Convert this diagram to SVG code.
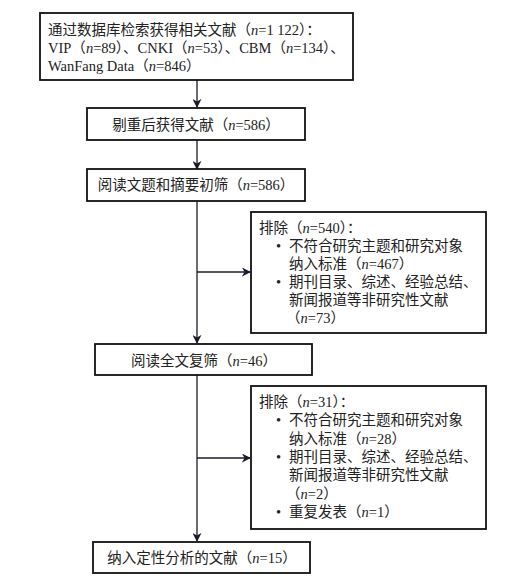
<svg xmlns="http://www.w3.org/2000/svg" width="531" height="579" viewBox="0 0 531 579">
<style>
.box{fill:#fff;stroke:#111;stroke-width:1.8}
.ln{fill:none;stroke:#1a1a2e;stroke-width:1.3}
text{font-family:"Liberation Serif","Noto Sans CJK SC",serif;font-size:14.5px;fill:#222}
.c{text-anchor:middle}
i{font-style:italic}
</style>
<defs>
<marker id="ah" viewBox="0 0 10 10" refX="9" refY="5" markerWidth="9" markerHeight="9" markerUnits="userSpaceOnUse" orient="auto">
<path d="M0,0 L10,5 L0,10 L3,5 Z" fill="#1a1a2e"/>
</marker>
</defs>
<rect width="531" height="579" fill="#fff"/>
<g id="connectors">
<line class="ln" x1="197" y1="80" x2="197" y2="107" marker-end="url(#ah)"/>
<line class="ln" x1="197" y1="140" x2="197" y2="169" marker-end="url(#ah)"/>
<line class="ln" x1="197" y1="201" x2="197" y2="343" marker-end="url(#ah)"/>
<line class="ln" x1="197" y1="272" x2="250" y2="272" marker-end="url(#ah)"/>
<line class="ln" x1="197" y1="375" x2="197" y2="541" marker-end="url(#ah)"/>
<line class="ln" x1="197" y1="458" x2="250" y2="458" marker-end="url(#ah)"/>
</g>
<g id="n1">
<rect class="box" x="40" y="13" width="313" height="67"/>
<text x="48" y="35">通过数据库检索获得相关文献（<tspan font-style="italic">n</tspan>=1 122）：</text>
<text x="48" y="53">VIP（<tspan font-style="italic">n</tspan>=89）、CNKI（<tspan font-style="italic">n</tspan>=53）、CBM（<tspan font-style="italic">n</tspan>=134）、</text>
<text x="48" y="71">WanFang Data（<tspan font-style="italic">n</tspan>=846）</text>
</g>
<g id="n2">
<rect class="box" x="87" y="108" width="218" height="32"/>
<text class="c" x="196" y="130">剔重后获得文献（<tspan font-style="italic">n</tspan>=586）</text>
</g>
<g id="n3">
<rect class="box" x="87" y="169" width="218" height="32"/>
<text class="c" x="196" y="190">阅读文题和摘要初筛（<tspan font-style="italic">n</tspan>=586）</text>
</g>
<g id="n4">
<rect class="box" x="251" y="212" width="235" height="121"/>
<text x="259" y="233">排除（<tspan font-style="italic">n</tspan>=540）：</text>
<text x="276" y="251">•</text>
<text x="289" y="251">不符合研究主题和研究对象</text>
<text x="289" y="269">纳入标准（<tspan font-style="italic">n</tspan>=467）</text>
<text x="276" y="287">•</text>
<text x="289" y="287">期刊目录、综述、经验总结、</text>
<text x="289" y="305">新闻报道等非研究性文献</text>
<text x="286" y="323">（<tspan font-style="italic">n</tspan>=73）</text>
</g>
<g id="n5">
<rect class="box" x="95" y="344" width="217" height="31"/>
<text class="c" x="204" y="366">阅读全文复筛（<tspan font-style="italic">n</tspan>=46）</text>
</g>
<g id="n6">
<rect class="box" x="251" y="386" width="235" height="143"/>
<text x="259" y="407">排除（<tspan font-style="italic">n</tspan>=31）：</text>
<text x="276" y="425">•</text>
<text x="289" y="425">不符合研究主题和研究对象</text>
<text x="289" y="443.5">纳入标准（<tspan font-style="italic">n</tspan>=28）</text>
<text x="276" y="462">•</text>
<text x="289" y="462">期刊目录、综述、经验总结、</text>
<text x="289" y="480">新闻报道等非研究性文献</text>
<text x="286" y="498.5">（<tspan font-style="italic">n</tspan>=2）</text>
<text x="276" y="517">•</text>
<text x="289" y="517">重复发表（<tspan font-style="italic">n</tspan>=1）</text>
</g>
<g id="n7">
<rect class="box" x="93" y="542" width="217" height="31"/>
<text class="c" x="202" y="563">纳入定性分析的文献（<tspan font-style="italic">n</tspan>=15）</text>
</g>
</svg>
